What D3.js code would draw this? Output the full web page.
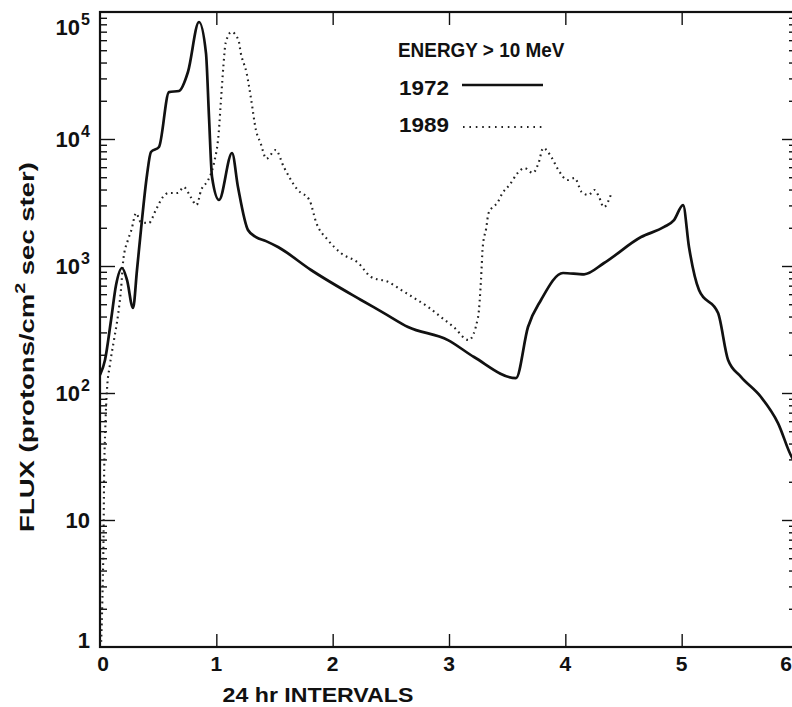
<!DOCTYPE html>
<html>
<head>
<meta charset="utf-8">
<script src="https://cdn.jsdelivr.net/npm/d3@7"></script>
<style>
  body { margin: 0; background: #fff; }
  svg text { font-family: "Liberation Sans", Arial, sans-serif; font-weight: bold; fill: #111; }
</style>
</head>
<body>
<svg id="chart" width="792" height="707"></svg>
<script>
// time in 24 hr intervals, flux in protons/cm2 sec ster
const t1972 = [0, 0.043, 0.095, 0.138, 0.189, 0.232, 0.284, 0.318, 0.352, 0.404, 0.438, 0.507, 0.593, 0.679, 0.756, 0.851, 0.911, 0.937, 0.963, 1.023, 1.135, 1.186, 1.272, 1.341, 1.427, 1.53, 1.814, 2.244, 2.441, 2.648, 2.991, 3.215, 3.576, 3.679, 3.791, 3.98, 4.161, 4.333, 4.651, 4.849, 4.934, 5.012, 5.063, 5.149, 5.313, 5.399, 5.51, 5.682, 5.828, 5.949, 6.0];
const f1972 = [139, 182, 376, 708, 964, 776, 467, 930, 1920, 5210, 7900, 8650, 23400, 23900, 33700, 83400, 47500, 14900, 5020, 3310, 7760, 4190, 1920, 1690, 1570, 1410, 930, 540, 426, 331, 261, 192, 131, 331, 540, 881, 860, 1056, 1690, 2030, 2300, 3020, 1410, 647, 426, 182, 134, 93, 58, 31, 27];

const t1989 = [0.01, 0.02, 0.03, 0.035, 0.045, 0.06, 0.085, 0.12, 0.155, 0.18, 0.2, 0.24, 0.27, 0.31, 0.35, 0.42, 0.48, 0.54, 0.59, 0.67, 0.72, 0.78, 0.83, 0.87, 0.93, 0.98, 1.02, 1.04, 1.06, 1.08, 1.13, 1.19, 1.21, 1.26, 1.3, 1.34, 1.38, 1.43, 1.51, 1.58, 1.7, 1.8, 1.86, 1.96, 2.07, 2.22, 2.33, 2.48, 2.59, 2.7, 2.82, 2.93, 3.04, 3.17, 3.25, 3.275, 3.29, 3.32, 3.34, 3.42, 3.46, 3.52, 3.59, 3.65, 3.72, 3.77, 3.81, 3.88, 3.94, 4.02, 4.08, 4.14, 4.2, 4.25, 4.29, 4.33, 4.4];
const f1989 = [1.1, 2.3, 7, 21, 51, 106, 166, 261, 411, 647, 1115, 1600, 1920, 2610, 2220, 2180, 2760, 3490, 3760, 3760, 4190, 3490, 3020, 3970, 4750, 6470, 11100, 20300, 36900, 57000, 69600, 60200, 47500, 33100, 20300, 11800, 9300, 7000, 8190, 6020, 3970, 3310, 2180, 1600, 1265, 1056, 819, 748, 647, 560, 476, 397, 331, 261, 397, 776, 1410, 1990, 2610, 3190, 3760, 4340, 5400, 5910, 5400, 6470, 8490, 7210, 5700, 4750, 4930, 3830, 3620, 3970, 3490, 2910, 3830];

const xTicks = [0, 1, 2, 3, 4, 5, 6];
const yDecades = [1, 10, 100, 1000, 10000, 100000];
const yLabels = [["1", ""], ["10", ""], ["10", "2"], ["10", "3"], ["10", "4"], ["10", "5"]];

const svg = d3.select("#chart");
const plot = {left: 100, right: 798, top: 12, bottom: 647};

const x = d3.scaleLinear().domain([0, 6]).range([plot.left, plot.right]);
const y = d3.scaleLog().domain([1, 1e5]).range([plot.bottom, plot.top]);

const minor = y.ticks().filter(v => !yDecades.includes(v));

// shrink or stretch a text to a given width around its anchor
function fitWidth(sel, w) {
  const bb = sel.node().getBBox();
  const k = w / bb.width;
  const ax = +sel.attr("x") || 0;
  sel.attr("transform", "translate(" + ax + ",0) scale(" + k + ",1) translate(" + (-ax) + ",0)");
}

function styleTicks(g) {
  g.select(".domain").remove();
  g.selectAll(".tick line").attr("stroke", "#111").attr("stroke-width", 1.4);
  g.selectAll(".tick text").remove();
}

// inward ticks on all four sides
svg.append("g").attr("transform", "translate(" + plot.left + ",0)")
  .call(d3.axisLeft(y).tickValues(minor).tickSize(-7).tickFormat("")).call(styleTicks);
svg.append("g").attr("transform", "translate(" + plot.left + ",0)")
  .call(d3.axisLeft(y).tickValues(yDecades.slice(1, 5)).tickSize(-15).tickFormat("")).call(styleTicks);
svg.append("g").attr("transform", "translate(" + plot.right + ",0)")
  .call(d3.axisRight(y).tickValues(minor).tickSize(-9).tickFormat("")).call(styleTicks);
svg.append("g").attr("transform", "translate(" + plot.right + ",0)")
  .call(d3.axisRight(y).tickValues(yDecades.slice(1, 5)).tickSize(-16).tickFormat("")).call(styleTicks);
svg.append("g").attr("transform", "translate(0," + plot.bottom + ")")
  .call(d3.axisBottom(x).tickValues(xTicks.slice(1, 6)).tickSize(-13).tickFormat("")).call(styleTicks);
svg.append("g").attr("transform", "translate(0," + plot.top + ")")
  .call(d3.axisTop(x).tickValues(xTicks.slice(1, 6)).tickSize(-13).tickFormat("")).call(styleTicks);

// frame
svg.append("rect")
  .attr("x", plot.left).attr("y", plot.top)
  .attr("width", plot.right - plot.left).attr("height", plot.bottom - plot.top)
  .attr("fill", "none").attr("stroke", "#111").attr("stroke-width", 2.2);

// x tick labels (the last one sits at the page edge)
svg.append("g").selectAll("text")
  .data(xTicks)
  .enter().append("text")
  .attr("x", d => d === 6 ? 792 : x(d) + (d === 0 ? 3 : 0))
  .attr("y", 671)
  .attr("text-anchor", d => d === 6 ? "end" : "middle")
  .attr("font-size", 21)
  .text(d => d);

// y tick labels with superscripts
const yl = svg.append("g").selectAll("text")
  .data(yDecades)
  .enter().append("text")
  .attr("x", 90)
  .attr("y", d => d === 1 ? 648 : d === 1e5 ? 35 : y(d) + 8)
  .attr("text-anchor", "end")
  .attr("font-size", 22);
yl.append("tspan").text((d, i) => yLabels[i][0]);
yl.append("tspan").attr("dy", -10).attr("dx", 1).attr("font-size", 16).text((d, i) => yLabels[i][1]);

// axis titles
const xt = svg.append("text")
  .attr("x", 318).attr("y", 702)
  .attr("text-anchor", "middle")
  .attr("font-size", 20)
  .text("24 hr INTERVALS");
fitWidth(xt, 191);

const ytg = svg.append("g").attr("transform", "translate(34,347) rotate(-90)");
const yt = ytg.append("text")
  .attr("x", 0).attr("y", 0)
  .attr("text-anchor", "middle")
  .attr("font-size", 21);
yt.append("tspan").text("FLUX (protons/cm");
yt.append("tspan").attr("dy", -9).attr("font-size", 15).text("2");
yt.append("tspan").attr("dy", 9).text(" sec ster)");
fitWidth(yt, 370);

// curves
const line = d3.line()
  .x(d => x(d[0]))
  .y(d => y(d[1]))
  .curve(d3.curveMonotoneX);

svg.append("defs").append("clipPath").attr("id", "plotclip")
  .append("rect").attr("x", plot.left).attr("y", plot.top)
  .attr("width", plot.right - plot.left).attr("height", plot.bottom - plot.top);

svg.append("path")
  .datum(d3.zip(t1989, f1989))
  .attr("clip-path", "url(#plotclip)")
  .attr("fill", "none")
  .attr("stroke", "#222")
  .attr("stroke-width", 2.1)
  .attr("stroke-dasharray", "1.7,3.8")
  .attr("d", line);

svg.append("path")
  .datum(d3.zip(t1972, f1972))
  .attr("clip-path", "url(#plotclip)")
  .attr("fill", "none")
  .attr("stroke", "#111")
  .attr("stroke-width", 2.7)
  .attr("stroke-linejoin", "round")
  .attr("d", line);

// legend
const en = svg.append("text")
  .attr("x", 398).attr("y", 57)
  .attr("font-size", 20)
  .text("ENERGY > 10 MeV");
fitWidth(en, 167);

const l72 = svg.append("text").attr("x", 399).attr("y", 95).attr("font-size", 20).text("1972");
fitWidth(l72, 50);
const l89 = svg.append("text").attr("x", 399).attr("y", 132).attr("font-size", 20).text("1989");
fitWidth(l89, 50);

svg.append("line")
  .attr("x1", 462).attr("x2", 543).attr("y1", 85).attr("y2", 85)
  .attr("stroke", "#111").attr("stroke-width", 2.6);
svg.append("line")
  .attr("x1", 463).attr("x2", 543).attr("y1", 127).attr("y2", 127)
  .attr("stroke", "#222").attr("stroke-width", 2)
  .attr("stroke-dasharray", "1.6,4.8");
</script>
</body>
</html>
